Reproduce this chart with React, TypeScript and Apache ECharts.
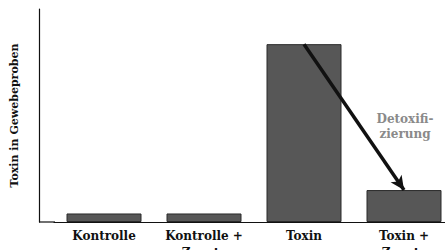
import React, { useEffect, useRef } from "react";
import * as echarts from "echarts";

const categories = ["Kontrolle", "Kontrolle +\nZusatz", "Toxin", "Toxin +\nZusatz"];
const values = [4, 4, 83.5, 15];
const yAxisName = "Toxin in Gewebeproben";
const annotation = "Detoxifi-\nzierung";

const FONT = "'DejaVu Serif', 'Liberation Serif', serif";

export default function App() {
  const ref = useRef<HTMLDivElement>(null);
  useEffect(() => {
    if (!ref.current) return;
    const chart = echarts.init(ref.current, undefined, { renderer: "svg" });
    chart.setOption({
      animation: false,
      backgroundColor: "#ffffff",
      grid: { left: 54, top: 9, width: 400, bottom: 28, containLabel: false, outerBoundsMode: "none" },
      xAxis: {
        type: "category",
        data: categories,
        boundaryGap: true,
        axisLine: { show: true, lineStyle: { color: "#111", width: 1.2 } },
        axisTick: { show: false },
        axisLabel: {
          fontFamily: FONT,
          fontWeight: "bold",
          fontSize: 12,
          color: "#111",
          lineHeight: 17,
          margin: 5,
          interval: 0,
        },
      },
      yAxis: {
        type: "value",
        min: 0,
        max: 100,
        offset: 15,
        name: yAxisName,
        nameLocation: "middle",
        nameRotate: 90,
        nameGap: 19,
        nameTextStyle: { fontFamily: FONT, fontWeight: "bold", fontSize: 11, color: "#111" },
        axisLine: { show: true, lineStyle: { color: "#111", width: 1.2 } },
        axisTick: { show: false },
        axisLabel: { show: false },
        splitLine: { show: false },
      },
      graphic: [
        {
          type: "line",
          shape: { x1: 39, y1: 222, x2: 55, y2: 222 },
          style: { stroke: "#111", lineWidth: 1.2 },
        },
        {
          type: "text",
          x: 405,
          y: 126,
          style: {
            text: annotation,
            fontFamily: FONT,
            fontWeight: "bold",
            fontSize: 12,
            fill: "#8a8a8a",
            align: "center",
            verticalAlign: "middle",
            lineHeight: 15,
          },
        },
      ],
      series: [
        {
          type: "bar",
          data: values,
          barWidth: 75,
          itemStyle: { color: "#575757", borderColor: "#2a2a2a", borderWidth: 1 },
          markLine: {
            silent: true,
            symbol: ["none", "arrow"],
            symbolSize: [10, 14],
            label: { show: false },
            lineStyle: { color: "#111", width: 3.5, type: "solid" },
            data: [
              [
                { coord: ["Toxin", values[2]] },
                { coord: ["Toxin +\nZusatz", values[3]] },
              ],
            ],
          },
        },
      ],
    });
    return () => chart.dispose();
  }, []);
  return <div ref={ref} style={{ width: 445, height: 250, position: "absolute", left: 0, top: 0 }} />;
}
